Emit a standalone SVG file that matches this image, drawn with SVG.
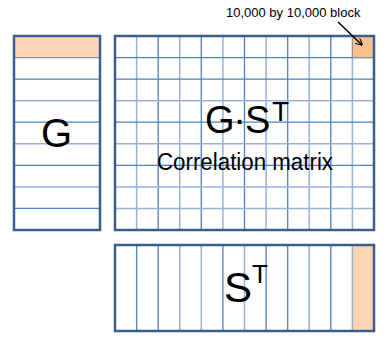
<svg xmlns="http://www.w3.org/2000/svg" width="389" height="346" viewBox="0 0 389 346">
<defs>
<style>
.frame{fill:none;stroke:#3b5e8c;stroke-width:2.5}
.ld{stroke:#4f81bd;stroke-width:1.3}
.ll{stroke:#95b3d7;stroke-width:1.5}
.pale{fill:#fcd5b5}
.hot{fill:#fac090}
.big{font-family:"Liberation Sans",Arial,sans-serif;fill:#000}
</style>
<marker id="ah" viewBox="0 0 10 10" refX="9" refY="5" markerWidth="7" markerHeight="7" orient="auto" markerUnits="userSpaceOnUse">
<path d="M0,0 L10,5 L0,10" fill="none" stroke="#000" stroke-width="1.6"/>
</marker>
</defs>
<rect width="389" height="346" fill="#fff"/>

<g id="matrix-G">
<rect x="14" y="36" width="86" height="21.6" class="pale"/>
<line x1="14" y1="57.6" x2="100" y2="57.6" stroke="#8a8f99" stroke-width="1.3"/>
<line x1="14" y1="79.1" x2="100" y2="79.1" class="ld"/>
<line x1="14" y1="100.7" x2="100" y2="100.7" class="ll"/>
<line x1="14" y1="122.2" x2="100" y2="122.2" class="ld"/>
<line x1="14" y1="143.8" x2="100" y2="143.8" class="ll"/>
<line x1="14" y1="165.3" x2="100" y2="165.3" class="ld"/>
<line x1="14" y1="186.9" x2="100" y2="186.9" class="ll"/>
<line x1="14" y1="208.4" x2="100" y2="208.4" class="ld"/>
<rect x="14" y="36" width="86" height="194" class="frame"/>
<text x="56.5" y="146.5" class="big" font-size="40" text-anchor="middle">G</text>
</g>

<g id="matrix-GST">
<line x1="136.6" y1="36" x2="136.6" y2="230" class="ll"/>
<line x1="158.2" y1="36" x2="158.2" y2="230" class="ld"/>
<line x1="179.7" y1="36" x2="179.7" y2="230" class="ll"/>
<line x1="201.3" y1="36" x2="201.3" y2="230" class="ld"/>
<line x1="222.9" y1="36" x2="222.9" y2="230" class="ll"/>
<line x1="244.5" y1="36" x2="244.5" y2="230" class="ld"/>
<line x1="266.1" y1="36" x2="266.1" y2="230" class="ll"/>
<line x1="287.7" y1="36" x2="287.7" y2="230" class="ld"/>
<line x1="309.2" y1="36" x2="309.2" y2="230" class="ll"/>
<line x1="330.8" y1="36" x2="330.8" y2="230" class="ld"/>
<line x1="352.4" y1="36" x2="352.4" y2="230" class="ll"/>
<line x1="115" y1="57.6" x2="374" y2="57.6" class="ld"/>
<line x1="115" y1="79.1" x2="374" y2="79.1" class="ld"/>
<line x1="115" y1="100.7" x2="374" y2="100.7" class="ll"/>
<line x1="115" y1="122.2" x2="374" y2="122.2" class="ld"/>
<line x1="115" y1="143.8" x2="374" y2="143.8" class="ll"/>
<line x1="115" y1="165.3" x2="374" y2="165.3" class="ld"/>
<line x1="115" y1="186.9" x2="374" y2="186.9" class="ll"/>
<line x1="115" y1="208.4" x2="374" y2="208.4" class="ll"/>
<rect x="352.4" y="36" width="21.6" height="21.6" class="hot" stroke="#8a8f99" stroke-width="1"/>
<rect x="115" y="36" width="259" height="194" class="frame"/>
<text y="133" class="big" font-size="38"><tspan x="205">G</tspan><tspan x="233.3">·</tspan><tspan x="245">S</tspan><tspan x="272" y="121.3" font-size="28">T</tspan></text>
<text x="157" y="170" class="big" font-size="23" textLength="176" lengthAdjust="spacingAndGlyphs">Correlation matrix</text>
</g>

<g id="matrix-ST">
<rect x="352.4" y="245" width="21.6" height="86" class="pale"/>
<line x1="136.6" y1="245" x2="136.6" y2="331" class="ld"/>
<line x1="158.2" y1="245" x2="158.2" y2="331" class="ld"/>
<line x1="179.7" y1="245" x2="179.7" y2="331" class="ll"/>
<line x1="201.3" y1="245" x2="201.3" y2="331" class="ll"/>
<line x1="222.9" y1="245" x2="222.9" y2="331" class="ld"/>
<line x1="244.5" y1="245" x2="244.5" y2="331" class="ll"/>
<line x1="266.1" y1="245" x2="266.1" y2="331" class="ld"/>
<line x1="287.7" y1="245" x2="287.7" y2="331" class="ld"/>
<line x1="309.2" y1="245" x2="309.2" y2="331" class="ll"/>
<line x1="330.8" y1="245" x2="330.8" y2="331" class="ld"/>
<line x1="352.4" y1="245" x2="352.4" y2="331" class="ll"/>
<rect x="115" y="245" width="259" height="86" class="frame"/>
<text y="302" class="big" font-size="42"><tspan x="224">S</tspan><tspan x="252" y="283.3" font-size="26">T</tspan></text>
</g>

<g id="label-block">
<text x="226" y="17" font-family="Liberation Sans,Arial,sans-serif" font-size="13" fill="#000">10,000 by 10,000 block</text>
</g>

<g id="connectors">
<line x1="338" y1="22" x2="362" y2="45" stroke="#000" stroke-width="1.5" marker-end="url(#ah)"/>
</g>
</svg>
